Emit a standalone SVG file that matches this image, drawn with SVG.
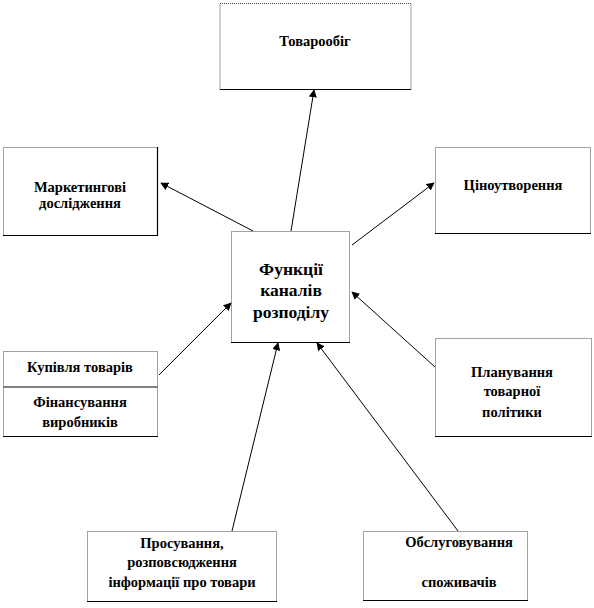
<svg xmlns="http://www.w3.org/2000/svg" width="594" height="608" viewBox="0 0 594 608">
<style>
.box{fill:#fff;stroke:#444;stroke-width:1;stroke-dasharray:1,1}
.edge{stroke:#000;stroke-width:1.2;fill:none}
.t{font-family:"Liberation Serif","Times New Roman","DejaVu Serif",serif;font-weight:bold;font-size:14.5px;fill:#000;text-anchor:middle}
.big{font-size:17.5px}
.conn line{stroke:#000;stroke-width:1}
</style>
<defs>
<marker id="ah" viewBox="0 0 10 10" refX="9" refY="5" markerWidth="8" markerHeight="8" orient="auto" markerUnits="userSpaceOnUse">
<path d="M0,0 L10,5 L0,10 z" fill="#000"/>
</marker>
</defs>
<rect width="594" height="608" fill="#fff"/>

<g id="tovaroobig">
<rect class="box" x="220" y="3.5" width="191" height="86"/>
<line class="edge" x1="220" y1="89.5" x2="411" y2="89.5"/>
<text class="t" x="315" y="46">Товарообіг</text>
</g>

<g id="marketing">
<rect class="box" x="3.5" y="147.5" width="154" height="88"/>
<line class="edge" x1="3" y1="235.5" x2="158" y2="235.5"/>
<line class="edge" x1="157.5" y1="147" x2="157.5" y2="236"/>
<text class="t" x="80" y="192">Маркетингові</text>
<text class="t" x="80" y="208">дослідження</text>
</g>

<g id="tsinoutvorennia">
<rect class="box" x="435.5" y="147.5" width="155" height="86"/>
<line class="edge" x1="435" y1="233.5" x2="591" y2="233.5"/>
<text class="t" x="513" y="190">Ціноутворення</text>
</g>

<g id="central">
<rect class="box" x="231.5" y="231.5" width="118" height="111"/>
<line class="edge" x1="231" y1="342.5" x2="350" y2="342.5"/>
<text class="t big" x="291" y="275">Функції</text>
<text class="t big" x="291" y="296">каналів</text>
<text class="t big" x="291" y="318">розподілу</text>
</g>

<g id="kupivlia">
<rect class="box" x="3.5" y="351.5" width="154" height="85"/>
<line x1="3" y1="387" x2="158" y2="387" stroke="#808080" stroke-width="2"/>
<line class="edge" x1="3" y1="436.5" x2="158" y2="436.5"/>
<text class="t" x="80" y="372">Купівля товарів</text>
<text class="t" x="80" y="407">Фінансування</text>
<text class="t" x="80" y="427">виробників</text>
</g>

<g id="planuvannia">
<rect class="box" x="435.5" y="338.5" width="156" height="98"/>
<line class="edge" x1="435" y1="436.5" x2="592" y2="436.5"/>
<text class="t" x="512" y="377">Планування</text>
<text class="t" x="512" y="396">товарної</text>
<text class="t" x="512" y="417">політики</text>
</g>

<g id="prosuvannia">
<rect class="box" x="87.5" y="531.5" width="189" height="70"/>
<line class="edge" x1="87" y1="601.5" x2="277" y2="601.5"/>
<text class="t" x="182" y="548">Просування,</text>
<text class="t" x="182" y="567">розповсюдження</text>
<text class="t" x="182" y="587">інформації  про товари</text>
</g>

<g id="obsluhovuvannia">
<rect class="box" x="363.5" y="531.5" width="164" height="69"/>
<line class="edge" x1="363" y1="600.5" x2="528" y2="600.5"/>
<text class="t" x="459" y="547">Обслуговування</text>
<text class="t" x="459" y="587">споживачів</text>
</g>

<g id="connectors" class="conn">
<line x1="291" y1="231" x2="314" y2="90" marker-end="url(#ah)"/>
<line x1="253" y1="231" x2="161" y2="183" marker-end="url(#ah)"/>
<line x1="352" y1="245" x2="434" y2="183" marker-end="url(#ah)"/>
<line x1="159" y1="375" x2="231" y2="303" marker-end="url(#ah)"/>
<line x1="435" y1="367" x2="352" y2="292" marker-end="url(#ah)"/>
<line x1="232" y1="531" x2="278" y2="343" marker-end="url(#ah)"/>
<line x1="458" y1="531" x2="317" y2="343" marker-end="url(#ah)"/>
</g>
</svg>
